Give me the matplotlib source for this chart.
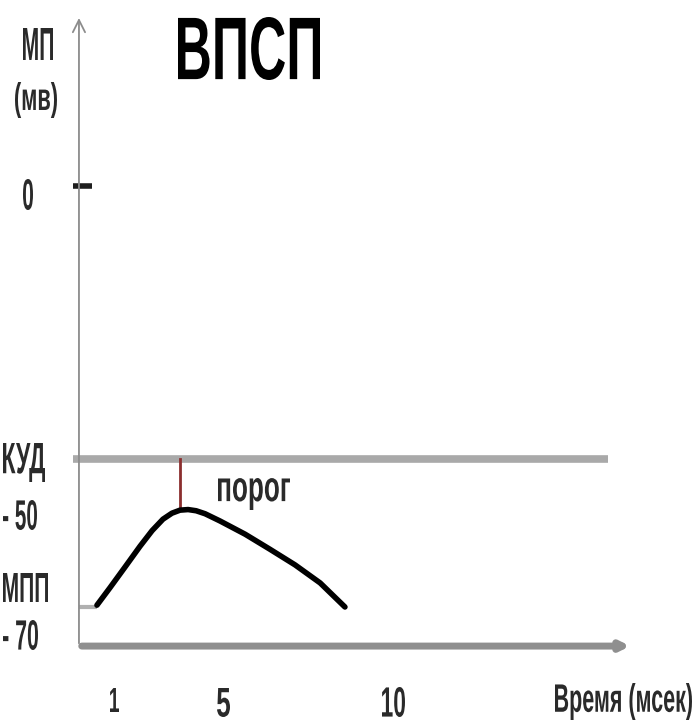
import matplotlib.pyplot as plt
from matplotlib.textpath import TextPath
from matplotlib.patches import PathPatch
from matplotlib.font_manager import FontProperties
from matplotlib.transforms import Affine2D, IdentityTransform

# data: time in ms, membrane potential in mV
t_ms = [0.45, 0.87, 1.35, 1.84, 2.23, 2.58, 2.87, 3.13, 3.39, 3.65, 3.94, 4.42, 5.23, 6.03, 6.84, 7.65, 8.45]
v_mv = [-69.7, -66.8, -63.4, -59.9, -57.3, -55.4, -54.4, -53.9, -53.8, -54.0, -54.5, -55.7, -57.9, -60.4, -63.0, -66.0, -70.0]
kud = -45.4          # critical depolarisation level (КУД)
mpp = -70.0          # resting membrane potential (МПП)
t_peak = 3.13
v_peak = -53.9
x_ticks = [1, 5, 10]
x_tick_labels = ['1', '5', '10']

W, H = 696, 726
fig = plt.figure(figsize=(W / 100, H / 100), dpi=100)
ax = fig.add_axes([0, 0, 1, 1])
ax.set_xlim(-2.677, 19.774)
ax.set_ylim(-89.79, 30.93)
ax.axis('off')


def squeezed_text(s, box, bold=True, color='#2a2a2a'):
    # draw s so that its ink fills box = (left, top, right, bottom) in pixels from top-left
    fp = FontProperties(family='Liberation Sans', weight='bold' if bold else 'normal')
    tp = TextPath((0, 0), s, size=100, prop=fp)
    ext = tp.get_extents()
    x0, y0, x1, y1 = box
    sx = (x1 - x0) / ext.width
    sy = (y1 - y0) / ext.height
    tr = Affine2D().translate(-ext.x0, -ext.y0).scale(sx, sy).translate(x0, H - y1)
    fig.add_artist(PathPatch(tp, transform=tr + IdentityTransform(), facecolor=color,
                             edgecolor='none'))


grey = '#a9a9a9'
y_axis_t = -0.13
x_axis_v = -76.5

# axes with arrows
ax.annotate('', xy=(y_axis_t, 28.4), xytext=(y_axis_t, x_axis_v),
            arrowprops=dict(arrowstyle='->', color='#8c8c8c', lw=1.3, mutation_scale=22))
ax.annotate('', xy=(17.74, x_axis_v), xytext=(y_axis_t, x_axis_v),
            arrowprops=dict(arrowstyle='-|>', color='#8f8f8f', lw=5, mutation_scale=12))
ax.plot([-0.32, 0.29], [0, 0], color='#1e1e1e', lw=4, solid_capstyle='butt')

# threshold level and resting level
ax.plot([-0.32, 16.94], [kud, kud], color=grey, lw=5.5, solid_capstyle='butt')
ax.plot([y_axis_t, t_ms[0]], [mpp, mpp], color='#b0b0b0', lw=3, solid_capstyle='butt')
ax.plot([t_peak, t_peak], [kud, v_peak], color='#8b2e2e', lw=2)

# EPSP curve
ax.plot(t_ms, v_mv, color='black', lw=4, solid_capstyle='round', solid_joinstyle='round')

squeezed_text('ВПСП', (178, 17, 320, 80), color='black')
squeezed_text('МП', (23, 28, 53, 60))
squeezed_text('(мв)', (15, 82, 57, 118))
squeezed_text('0', (23, 179, 33, 210))
squeezed_text('КУД', (3, 443, 45, 482))
squeezed_text('- 50', (3, 500, 37, 530))
squeezed_text('МПП', (3, 573, 48, 602))
squeezed_text('- 70', (3, 620, 38, 650))
squeezed_text('порог', (218, 478, 290, 510))
tick_boxes = [(110, 688, 119, 712), (217, 688, 230, 717), (382, 687, 405, 717)]
for lab, b in zip(x_tick_labels, tick_boxes):
    squeezed_text(lab, b)
squeezed_text('Время (мсек)', (555, 683, 692, 720))

fig.savefig('out.png', dpi=100)
